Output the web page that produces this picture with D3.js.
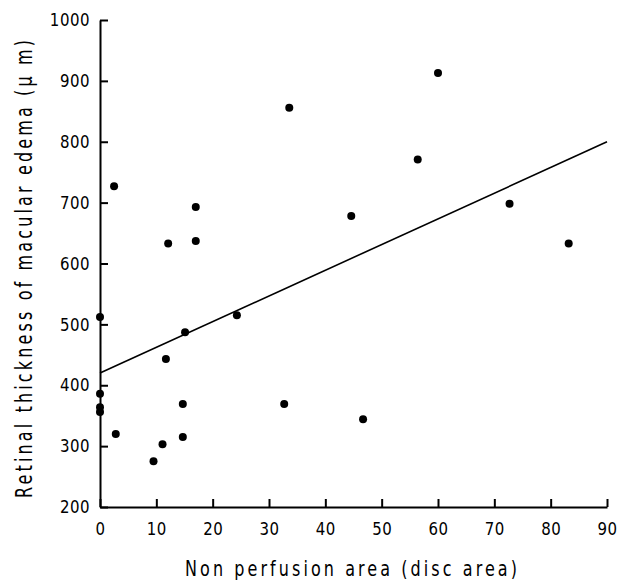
<!DOCTYPE html>
<html>
<head>
<meta charset="utf-8">
<script src="https://cdn.jsdelivr.net/npm/d3@7"></script>
<style>
  body { margin: 0; background: #fff; }
  svg { display: block; }
</style>
</head>
<body>
<script>
// non perfusion area (disc area) vs retinal thickness (um)
var areaX = [2.5, 12.1, 17.0, 17.0, 33.6, 60.0, 56.4, 44.6, 72.7, 83.2,
             0, 24.3, 15.1, 11.7, 0, 0, 0, 14.7, 32.7, 2.8, 14.7, 11.1, 9.5, 46.7];
var thickY = [727, 633, 693, 637, 856, 913, 771, 678, 698, 633,
              512, 515, 487, 443, 386, 364, 356, 369, 369, 320, 315, 303, 275, 344];
// fitted line ends
var fitX = [0, 90];
var fitY = [420, 800];
var xTicks = [0, 10, 20, 30, 40, 50, 60, 70, 80, 90];
var yTicks = [200, 300, 400, 500, 600, 700, 800, 900, 1000];

var W = 617, H = 584;
var x = d3.scaleLinear().domain([0, 90]).range([100, 607]);
var y = d3.scaleLinear().domain([200, 1000]).range([507, 20]);

var svg = d3.select("body").append("svg")
  .attr("width", W)
  .attr("height", H);

var font = "DejaVu Sans, Verdana, sans-serif";

// y axis
var gy = svg.append("g")
  .attr("transform", "translate(100,0)")
  .call(d3.axisLeft(y).tickValues(yTicks).tickFormat(d3.format("d"))
    .tickSizeInner(-8).tickSizeOuter(0).tickPadding(10));

// x axis
var gx = svg.append("g")
  .attr("transform", "translate(0,507)")
  .call(d3.axisBottom(x).tickValues(xTicks).tickFormat(d3.format("d"))
    .tickSizeInner(-8).tickSizeOuter(0).tickPadding(10));

[gx, gy].forEach(function (g) {
  g.select(".domain").attr("stroke", "#000").attr("stroke-width", 2);
  g.selectAll(".tick line").attr("stroke", "#000").attr("stroke-width", 2);
  g.selectAll(".tick text")
    .attr("fill", "#000")
    .style("font-family", font)
    .style("font-size", "15px")
    .style("letter-spacing", "0.5px");
});
gy.selectAll(".tick text").attr("transform", "scale(1,1.18)");
gx.selectAll(".tick text").attr("y", 0).attr("dy", 0)
  .attr("transform", "translate(0,28) scale(1,1.18)");

// regression line
svg.append("line")
  .attr("x1", x(fitX[0])).attr("y1", y(fitY[0]))
  .attr("x2", x(fitX[1])).attr("y2", y(fitY[1]))
  .attr("stroke", "#000")
  .attr("stroke-width", 1.6);

// points
svg.append("g").selectAll("circle")
  .data(areaX.map(function (v, i) { return [v, thickY[i]]; }))
  .join("circle")
  .attr("cx", function (d) { return x(d[0]); })
  .attr("cy", function (d) { return y(d[1]); })
  .attr("r", 4)
  .attr("fill", "#000");

// axis titles
svg.append("text")
  .attr("transform", "translate(351,576) scale(1,1.35)")
  .attr("text-anchor", "middle")
  .attr("textLength", 332)
  .attr("lengthAdjust", "spacing")
  .style("font-family", font)
  .style("font-size", "16px")
  .text("Non perfusion area (disc area)");

svg.append("text")
  .attr("transform", "translate(32,269) rotate(-90) scale(1,1.4)")
  .attr("text-anchor", "middle")
  .attr("textLength", 458)
  .attr("lengthAdjust", "spacing")
  .style("font-family", font)
  .style("font-size", "16px")
  .text("Retinal thickness of macular edema (\u03bc m)");
</script>
</body>
</html>
